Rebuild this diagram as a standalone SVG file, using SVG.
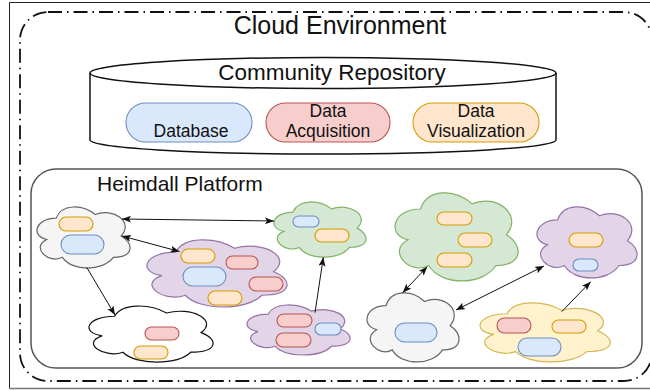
<svg xmlns="http://www.w3.org/2000/svg" xmlns:xlink="http://www.w3.org/1999/xlink" width="650" height="390" viewBox="0 0 650 390">
<style>
text{font-family:"Liberation Sans",Arial,sans-serif;fill:#111}
.cl{vector-effect:non-scaling-stroke;stroke-width:1.2}
.gray{fill:#f5f5f5;stroke:#666}
.white{fill:#fff;stroke:#111}
.purple{fill:#e1d5e7;stroke:#9673a6}
.green{fill:#d5e8d4;stroke:#82b366}
.yellow{fill:#fff2cc;stroke:#d6b656}
.o{fill:#ffe6cc;stroke:#d79b00;stroke-width:1.1}
.r{fill:#f8cecc;stroke:#b85450;stroke-width:1.1}
.b{fill:#dae8fc;stroke:#6c8ebf;stroke-width:1.1}
.e{fill:none;stroke:#111;stroke-width:1}
</style>
<defs>
<path id="cloud" class="cl" d="M25,25 C5,25 0,50 16,55 C0,66 18,90 31,80 C40,100 70,100 80,80 C100,80 100,60 87.5,50 C100,30 80,10 62.5,20 C50,5 30,5 25,25 Z"/>
<marker id="ah" markerUnits="userSpaceOnUse" markerWidth="10" markerHeight="8" refX="9" refY="3.5" orient="auto-start-reverse">
<path d="M0,0 L9,3.5 L0,7 L2,3.5 Z" fill="#111"/>
</marker>
</defs>
<rect width="650" height="390" fill="#fff"/>
<g id="frame" fill="none">
<path d="M650,2.5 H9.5 V388.5" stroke="#222" stroke-width="1"/>
<path d="M9.5,388.5 H650" stroke="#777" stroke-width="1.5"/>
</g>
<g id="cloud-environment">
<rect x="20" y="12" width="632" height="369" rx="28" fill="none" stroke="#111" stroke-width="1.8" stroke-dasharray="14 5 1.5 5"/>
<text x="340" y="34" font-size="25" text-anchor="middle">Cloud Environment</text>
</g>
<g id="community-repository">
<path d="M90,73 A233,15.5 0 0 1 556,73 L556,140 A233,14 0 0 1 90,140 Z" fill="#fff" stroke="#111" stroke-width="1.5"/>
<path d="M90,73 A233,15.5 0 0 0 556,73" fill="none" stroke="#111" stroke-width="1.5"/>
<text x="332" y="80" font-size="22.5" text-anchor="middle">Community Repository</text>
</g>
<g id="database">
<rect x="126" y="103" width="126" height="39" rx="19.5" class="b"/>
<text x="191" y="137" font-size="17.5" text-anchor="middle">Database</text>
</g>
<g id="data-acquisition">
<rect x="266" y="103" width="124" height="39" rx="19.5" class="r"/>
<text x="328" y="117" font-size="17.5" text-anchor="middle">Data</text>
<text x="328" y="137" font-size="17.5" text-anchor="middle">Acquisition</text>
</g>
<g id="data-visualization">
<rect x="413" y="103" width="126" height="39" rx="19.5" class="o"/>
<text x="476" y="117" font-size="17.5" text-anchor="middle">Data</text>
<text x="476" y="137" font-size="17.5" text-anchor="middle">Visualization</text>
</g>
<g id="heimdall-platform">
<rect x="31" y="169" width="611" height="199" rx="25" fill="#fff" stroke="#555" stroke-width="1.5"/>
<text x="97" y="191" font-size="21">Heimdall Platform</text>
</g>
<g id="node-a">
<use xlink:href="#cloud" class="gray" transform="translate(30.2,200.3) scale(1.039,0.713)"/>
<rect x="59" y="217" width="34" height="14" rx="7" class="o"/>
<rect x="61" y="235" width="43" height="19" rx="9.5" class="b"/>
</g>
<g id="node-b">
<use xlink:href="#cloud" class="purple" transform="translate(136.8,232.6) scale(1.564,0.783)"/>
<rect x="181" y="249" width="34" height="14" rx="7" class="o"/>
<rect x="226" y="256" width="32" height="13" rx="6.5" class="r"/>
<rect x="183" y="267" width="43" height="19" rx="9.5" class="b"/>
<rect x="249" y="277" width="34" height="14" rx="7" class="r"/>
<rect x="208" y="291" width="34" height="14" rx="7" class="o"/>
</g>
<g id="node-c">
<use xlink:href="#cloud" class="white" transform="translate(80,299.9) scale(1.385,0.654)"/>
<rect x="145" y="327" width="34" height="13" rx="6.5" class="r"/>
<rect x="134" y="346" width="34" height="13" rx="6.5" class="o"/>
</g>
<g id="node-d">
<use xlink:href="#cloud" class="green" transform="translate(267.3,196) scale(1.028,0.643)"/>
<rect x="293" y="216" width="26" height="11" rx="5.5" class="b"/>
<rect x="315" y="229" width="34" height="13" rx="6.5" class="o"/>
</g>
<g id="node-e">
<use xlink:href="#cloud" class="purple" transform="translate(239.5,299.5) scale(1.151,0.584)"/>
<rect x="277" y="314" width="35" height="13" rx="6.5" class="r"/>
<rect x="276" y="333" width="35" height="14" rx="7" class="r"/>
<rect x="315" y="323" width="26" height="12" rx="6" class="b"/>
</g>
<g id="node-f">
<use xlink:href="#cloud" class="green" transform="translate(386.1,183.3) scale(1.374,1.028)"/>
<rect x="437" y="212" width="35" height="13" rx="6.5" class="o"/>
<rect x="458" y="233" width="34" height="14" rx="7" class="o"/>
<rect x="437" y="253" width="35" height="14" rx="7" class="o"/>
</g>
<g id="node-g">
<use xlink:href="#cloud" class="purple" transform="translate(529.7,199.2) scale(1.117,0.829)"/>
<rect x="569" y="233" width="34" height="14" rx="7" class="o"/>
<rect x="573" y="259" width="25" height="12" rx="6" class="b"/>
</g>
<g id="node-h">
<use xlink:href="#cloud" class="gray" transform="translate(360.3,285.4) scale(1.028,0.806)"/>
<rect x="395" y="323" width="42" height="19" rx="9.5" class="b"/>
</g>
<g id="node-i">
<use xlink:href="#cloud" class="yellow" transform="translate(470.6,296.5) scale(1.453,0.689)"/>
<rect x="497" y="318" width="34" height="15" rx="7.5" class="r"/>
<rect x="552" y="320" width="34" height="13" rx="6.5" class="o"/>
<rect x="518" y="338" width="43" height="18" rx="9" class="b"/>
</g>
<g id="connectors">
<line x1="122" y1="219" x2="274" y2="221" class="e" marker-start="url(#ah)" marker-end="url(#ah)"/>
<line x1="122" y1="236" x2="179.5" y2="251.5" class="e" marker-start="url(#ah)" marker-end="url(#ah)"/>
<line x1="86.7" y1="267.3" x2="115" y2="315" class="e" marker-end="url(#ah)"/>
<line x1="315" y1="312.7" x2="323.3" y2="257.3" class="e" marker-end="url(#ah)"/>
<line x1="427.3" y1="266.7" x2="402.7" y2="292.7" class="e" marker-start="url(#ah)" marker-end="url(#ah)"/>
<line x1="456" y1="310" x2="544" y2="266" class="e" marker-start="url(#ah)" marker-end="url(#ah)"/>
<line x1="561.7" y1="311.7" x2="590.7" y2="281.7" class="e" marker-end="url(#ah)"/>
</g>
</svg>
